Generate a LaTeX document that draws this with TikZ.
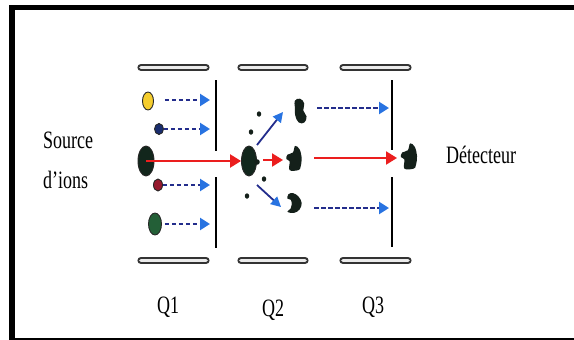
\documentclass[tikz,border=0pt]{standalone}
\usepackage{fontspec}
\setmainfont{Liberation Serif}
\usetikzlibrary{arrows.meta,shapes.geometric}
\definecolor{navy}{RGB}{35,45,140}
\definecolor{tipblue}{RGB}{40,115,225}
\definecolor{beamred}{RGB}{235,30,30}
\definecolor{ionyellow}{RGB}{245,205,45}
\definecolor{iondark}{RGB}{18,38,28}
\definecolor{ionblue}{RGB}{25,45,110}
\definecolor{ionred}{RGB}{150,25,45}
\definecolor{iongreen}{RGB}{35,95,55}
\definecolor{fragcol}{RGB}{20,32,26}
\newcommand\narrowtxt[1]{\scalebox{0.72}[1]{#1}}

\begin{document}
\begin{tikzpicture}[x=1pt,y=-1pt,
  ion/.style={ellipse, inner sep=0pt, draw=black!85, line width=0.9pt},
  speck/.style={ellipse, inner sep=0pt, fill=fragcol, minimum width=4.5pt, minimum height=5.5pt},
  dasharrow/.style={navy, line width=2.4pt, dash pattern=on 4.5pt off 2.5pt,
    -{Triangle[length=10pt,width=12pt,color=tipblue]}},
  solidarrow/.style={navy, line width=1.8pt,
    -{Triangle[length=10pt,width=10pt,color=tipblue]}},
  redarrow/.style={beamred, line width=2.2pt, -{Triangle[length=11pt,width=13pt]}},
  rail/.style={draw=black!80, line width=1.8pt, double=black!8,
    double distance=3.6pt, line cap=round},
  plate/.style={black, line width=2.4pt},
  txt/.style={font=\fontsize{25}{30}\selectfont, inner sep=0pt, anchor=base west},
]
\useasboundingbox (0,0) rectangle (574,340);

% outer frame
\draw[line width=5.5pt] (12,342) -- (12,7.5) -- (580,7.5);
\draw[line width=2.5pt] (12,339) -- (580,339);

% quadrupole rods
\foreach \a/\b in {141/206, 241/305, 343/408} {
  \draw[rail] (\a,67.5) -- (\b,67.5);
  \draw[rail] (\a,260.5) -- (\b,260.5);
}

% exit plates of Q1 and Q3
\draw[plate] (216,80) -- (216,151);
\draw[plate] (216,177) -- (216,248);
\draw[plate] (392,80) -- (392,150);
\draw[plate] (392,177) -- (392,247);

% ions entering Q1
\node[ion, fill=ionyellow, minimum width=11pt, minimum height=18pt] (yel) at (148,101) {};
\node[ion, fill=ionblue, minimum width=9pt, minimum height=11pt] (blu) at (159,129) {};
\node[ion, fill=iondark, minimum width=16pt, minimum height=30pt] (prec) at (146,161) {};
\node[ion, fill=ionred, minimum width=9pt, minimum height=12pt] (red) at (158,185) {};
\node[ion, fill=iongreen, minimum width=13pt, minimum height=22pt] (grn) at (155,224) {};

% arrow ends at the Q1 plate
\coordinate (yelE) at (210,100);
\coordinate (bluE) at (210,129);
\coordinate (redE) at (210,185);
\coordinate (grnE) at (210,224);

\draw[dasharrow, shorten <=11pt] (yel.east |- yelE) -- (yelE);
\draw[dasharrow] (blu.east |- bluE) -- (bluE);
\draw[dasharrow] (red.east |- redE) -- (redE);
\draw[dasharrow, shorten <=3pt] (grn.east |- grnE) -- (grnE);

% selected precursor in the collision cell Q2
\node[ion, fill=iondark, minimum width=15pt, minimum height=30pt] (coll) at (249,161) {};
\fill[fragcol] (257,162) circle (2.8pt);
\draw[redarrow] (prec.center) -- (coll.west);

% neutral specks around the collision
\node[speck] (s1) at (259,114) {};
\node[speck] (s2) at (251,132) {};
\node[speck] (s3) at (264,179) {};
\node[speck] (s4) at (247,196) {};

% product ions
\coordinate (fragA) at (300,111);
\coordinate (fragB) at (294,158);
\coordinate (fragC) at (294,203);
\coordinate (fragD) at (409,156);
\fill[fragcol, shift={(fragA)}, rotate=10, scale=1.1] plot[smooth cycle, tension=0.7]
  coordinates {(-3,-10) (2,-11) (5,-6) (3,0) (5,6) (2,11) (-3,10) (-5,3) (-4,-4)};
\fill[fragcol, shift={(fragB)}, scale=1.1] plot[smooth cycle, tension=0.6]
  coordinates {(-4,11) (-4,3) (-7,1) (-6,-3) (-1,-5) (1,-11) (5,-8) (7,0) (6,8) (4,11)};
\fill[fragcol, shift={(fragC)}, scale=1.1] plot[smooth cycle, tension=0.6]
  coordinates {(-5,-8) (-1,-9) (4,-6) (7,0) (5,6) (0,9) (-6,8) (-3,5) (-2,1) (-3,-3) (-6,-4)};
\fill[fragcol, shift={(fragD)}, scale=1.15] plot[smooth cycle, tension=0.6]
  coordinates {(-4,11) (-4,3) (-7,1) (-6,-3) (-1,-5) (1,-11) (5,-8) (7,0) (6,8) (4,11)};

% fragmentation arrows inside Q2
\coordinate (upE) at (283,112);
\coordinate (dnE) at (281,207);
\coordinate (midS) at (263,160);
\coordinate (midE) at (283,160);
\draw[solidarrow] (257,145) -- (upE);
\draw[solidarrow] (257,185) -- (dnE);
\draw[redarrow] (midS) -- (midE);

% product ions travelling through Q3
\coordinate (aS) at (317,108);
\coordinate (aE) at (389,108);
\coordinate (cS) at (314,208);
\coordinate (cE) at (389,208);
\coordinate (bS) at (314,158);
\coordinate (bE) at (397,158);
\draw[dasharrow] (aS) -- (aE);
\draw[dasharrow] (cS) -- (cE);
\draw[redarrow] (bS) -- (bE);

% labels
\node[txt] (src1) at (43,148) {\narrowtxt{Source}};
\node[txt] (src2) at (43,188) {\narrowtxt{d’ions}};
\node[txt] (det) at (446,163) {\narrowtxt{Détecteur}};
\node[txt] (q1) at (157,313) {\narrowtxt{Q1}};
\node[txt] (q2) at (262,316) {\narrowtxt{Q2}};
\node[txt] (q3) at (362,313) {\narrowtxt{Q3}};
\end{tikzpicture}
\end{document}
